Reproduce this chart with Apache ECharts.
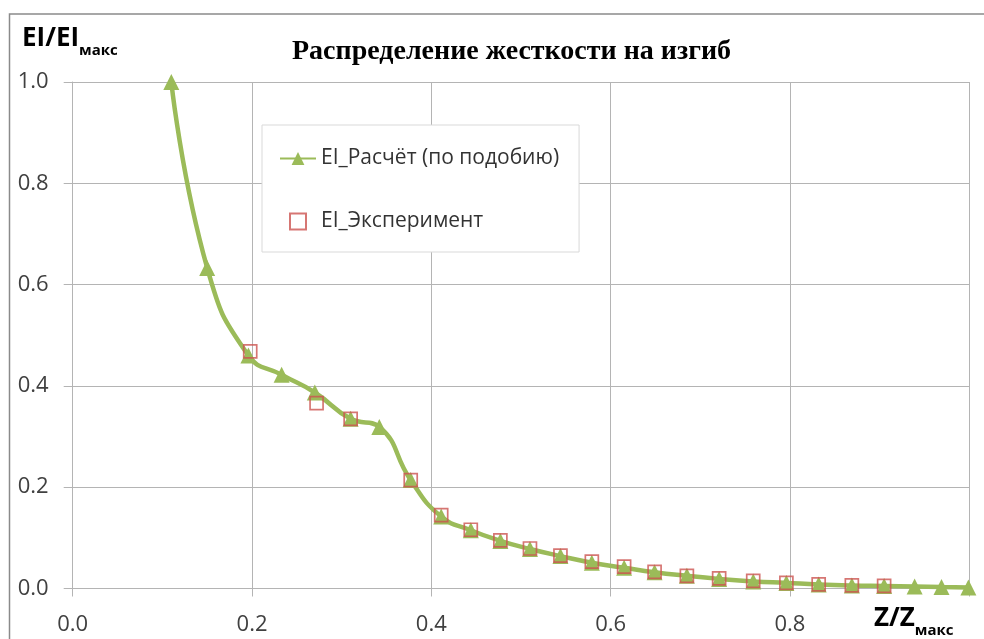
<!DOCTYPE html>
<html style="height: 100%">
<head>
	<meta charset="UTF-8">
	<title>Распределение жесткости на изгиб</title>
	<script src="https://cdn.jsdelivr.net/npm/echarts@6.0.0/dist/echarts.min.js"></script>
</head>
<body style="height:100%; margin: 0; background-color:#ffffff">
<div id="main" style="width: 984px; height: 639px;"></div>
<script type="text/javascript">
	// расчёт (по подобию)
	var calcZ = [0.110, 0.150, 0.196, 0.233, 0.270, 0.310, 0.342, 0.377, 0.411, 0.444, 0.477, 0.510, 0.544,
		0.579, 0.615, 0.649, 0.685, 0.721, 0.759, 0.796, 0.832, 0.869, 0.905, 0.939, 0.969, 0.999];
	var calcEI = [1.000, 0.633, 0.460, 0.422, 0.387, 0.335, 0.319, 0.214, 0.142, 0.115, 0.094, 0.078, 0.064,
		0.051, 0.041, 0.032, 0.025, 0.019, 0.014, 0.011, 0.008, 0.006, 0.005, 0.004, 0.003, 0.002];
	// эксперимент
	var expZ = [0.198, 0.272, 0.310, 0.377, 0.411, 0.444, 0.477, 0.510, 0.544, 0.579, 0.615, 0.649,
		0.685, 0.721, 0.759, 0.796, 0.832, 0.869, 0.905];
	var expEI = [0.468, 0.366, 0.335, 0.214, 0.145, 0.116, 0.095, 0.079, 0.065, 0.053, 0.043, 0.033,
		0.025, 0.020, 0.015, 0.011, 0.008, 0.006, 0.005];
	var ticks = [0, 0.2, 0.4, 0.6, 0.8, 1.0];

	var font = 'Open Sans';
	var gridColor = '#b4b4b4';

	function pairs(xs, ys) {
		var out = [];
		for (var i = 0; i < xs.length; i++) {
			out.push([xs[i], ys[i]]);
		}
		return out;
	}

	// подпись оси с нижним индексом
	function subLabel(main, sub) {
		return {
			text: '{a|' + main + '}{b|' + sub + '}',
			rich: {
				a: { fontSize: 26, fontWeight: 'bold', fontFamily: font, color: '#000', verticalAlign: 'bottom', padding: [0, 0, 6, 0] },
				b: { fontSize: 15, fontWeight: 'bold', fontFamily: font, color: '#000', verticalAlign: 'bottom' }
			}
		};
	}

	var myChart = echarts.init(document.getElementById('main'));

	var option = {
		animation: false,
		graphic: [
			{ // рамка
				type: 'rect',
				shape: { x: 9.5, y: 14, width: 1100, height: 700 },
				style: { fill: 'none', stroke: '#8a8a8a', lineWidth: 1.5 },
				silent: true
			},
			{
				type: 'text', left: 292, top: 38,
				style: {
					text: 'Распределение жесткости на изгиб',
					font: 'bold 28px "Liberation Serif"',
					fill: '#000'
				}
			},
			{ type: 'text', left: 22, top: 26, style: subLabel('EI/EI', 'макс') },
			{ type: 'text', left: 874, top: 606, style: subLabel('Z/Z', 'макс') }
		],
		legend: {
			orient: 'vertical',
			left: 262,
			top: 125,
			padding: [23, 20, 20, 17],
			itemGap: 42,
			itemWidth: 36,
			itemHeight: 16,
			backgroundColor: '#fff',
			borderColor: '#d9d9d9',
			borderWidth: 1,
			textStyle: { fontFamily: font, fontSize: 21, color: '#333' },
			data: [
				{ name: 'EI_Расчёт (по подобию)' },
				{ name: 'EI_Эксперимент', icon: 'path://M0,0H10V10H0Z' }
			]
		},
		grid: {
			left: 72.7,
			right: 14.7,
			top: 82,
			bottom: 50.5,
			containLabel: false
		},
		xAxis: {
			type: 'value',
			min: ticks[0],
			max: ticks[ticks.length - 1],
			interval: 0.2,
			axisLine: { lineStyle: { color: gridColor } },
			axisTick: { show: true, length: 8, lineStyle: { color: gridColor } },
			splitLine: { lineStyle: { color: gridColor } },
			axisLabel: {
				margin: 25,
				fontFamily: font,
				fontSize: 22,
				color: '#404040',
				formatter: function (v) { return v >= 1 ? '' : v.toFixed(1); }
			}
		},
		yAxis: {
			type: 'value',
			min: ticks[0],
			max: ticks[ticks.length - 1],
			interval: 0.2,
			axisLine: { show: true, lineStyle: { color: gridColor } },
			axisTick: { show: true, length: 9, lineStyle: { color: gridColor } },
			splitLine: { lineStyle: { color: gridColor } },
			axisLabel: {
				margin: 24,
				fontFamily: font,
				fontSize: 22,
				color: '#404040',
				formatter: function (v) { return v.toFixed(1); }
			}
		},
		series: [
			{
				name: 'EI_Расчёт (по подобию)',
				type: 'line',
				smooth: 0.5,
				data: pairs(calcZ, calcEI),
				symbol: 'triangle',
				symbolSize: 16,
				lineStyle: { color: '#9bbb59', width: 4.5 },
				itemStyle: { color: '#9bbb59' },
				z: 2
			},
			{
				name: 'EI_Эксперимент',
				type: 'scatter',
				data: pairs(expZ, expEI),
				symbol: 'rect',
				symbolSize: 13,
				itemStyle: { color: 'rgba(0,0,0,0)', borderColor: '#cc5450', borderWidth: 1.7 },
				z: 3
			}
		]
	};
	myChart.setOption(option);
</script>
</body>
</html>
